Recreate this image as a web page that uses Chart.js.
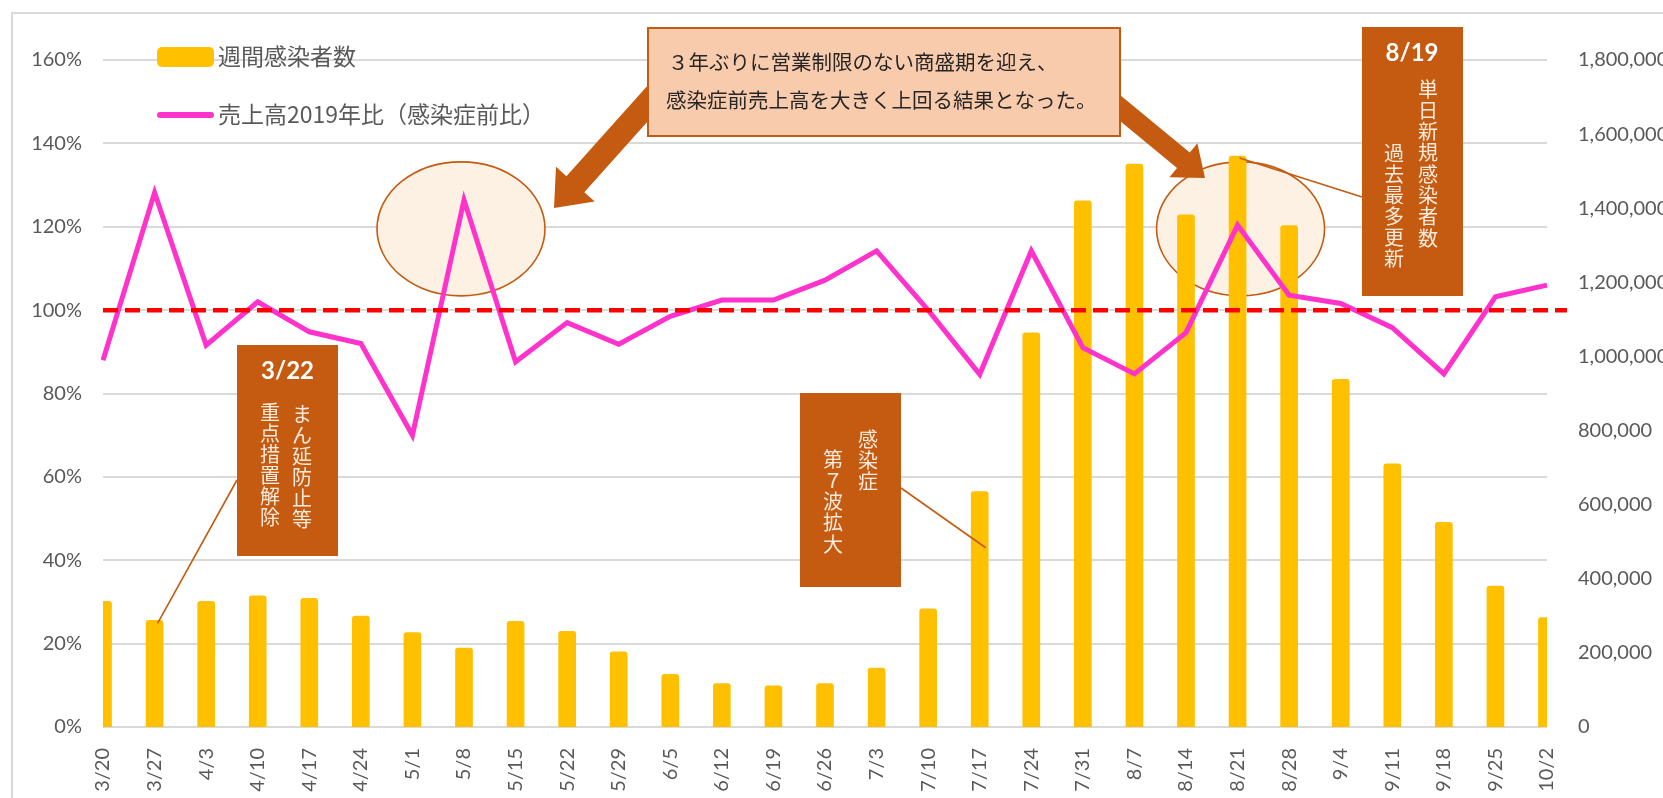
<!DOCTYPE html>
<html><head><meta charset="utf-8">
<script src="https://cdn.jsdelivr.net/npm/chart.js@4/dist/chart.umd.min.js"></script>
<style>
html,body{margin:0;padding:0;background:#fff;}
#wrap{position:relative;width:1663px;height:798px;}
canvas{display:block;}
</style>
</head><body>
<div id="wrap"><canvas id="c" width="1663" height="798"></canvas></div>
<script>
// ---- data ----
const categories = ['3/20','3/27','4/3','4/10','4/17','4/24','5/1','5/8','5/15','5/22','5/29','6/5','6/12','6/19','6/26','7/3','7/10','7/17','7/24','7/31','8/7','8/14','8/21','8/28','9/4','9/11','9/18','9/25','10/2'];
const weeklyInfections = [339000,288000,339000,354000,347000,299000,255000,213000,285000,258000,203000,142000,117000,111000,117000,159000,319000,635000,1064000,1420000,1519000,1382000,1541000,1353000,938000,710000,552000,380000,295000];
const salesVs2019 = [88,128.2,91.6,102,94.8,92,70,126.4,87.6,97,91.8,98.5,102.4,102.4,107.2,114.2,100,84.6,114.2,91,84.7,94.6,120.4,103.6,101.6,95.8,84.7,103.2,106];
const percentTicks = [0,20,40,60,80,100,120,140,160];
const countTicks = [0,200000,400000,600000,800000,1000000,1200000,1400000,1600000,1800000];
const barLabel = '週間感染者数';
const lineLabel = '売上高2019年比（感染症前比）';
const baseline = 100;

const GRAY = '#595959';
const BROWN = '#C55A11';
const BOXTEXT = '#FDEBDD';
const CJK = '"Noto Sans CJK JP", "Noto Sans", sans-serif';
Chart.defaults.font.family = 'Lato, "Noto Sans CJK JP", sans-serif';

function arrow(g, x0, y0, x1, y1, sw, hw, hl){
  const dx=x1-x0, dy=y1-y0, L=Math.hypot(dx,dy), ux=dx/L, uy=dy/L, px=-uy, py=ux;
  const bx=x1-ux*hl, by=y1-uy*hl;
  g.beginPath();
  g.moveTo(x0+px*sw/2, y0+py*sw/2);
  g.lineTo(bx+px*sw/2, by+py*sw/2);
  g.lineTo(bx+px*hw/2, by+py*hw/2);
  g.lineTo(x1, y1);
  g.lineTo(bx-px*hw/2, by-py*hw/2);
  g.lineTo(bx-px*sw/2, by-py*sw/2);
  g.lineTo(x0-px*sw/2, y0-py*sw/2);
  g.closePath();
  g.fill();
}
function vtext(g, str, x, y0, step){
  [...str].forEach((ch,i)=>g.fillText(ch, x, y0+i*step));
}
function brownBox(g, x, y, w, h){
  g.fillStyle=BROWN; g.fillRect(x,y,w,h);
}

const annot = {
  id:'annot',
  beforeDraw(c){
    const g=c.ctx; g.save();
    g.fillStyle='#fff'; g.fillRect(0,0,c.width,c.height);
    g.strokeStyle='#D9D9D9'; g.lineWidth=2; g.strokeRect(12,13,1720,900);
    g.restore();
  },
  beforeDatasetsDraw(c){
    const g=c.ctx, xs=c.scales.x, ys=c.scales.y;
    g.save();
    g.fillStyle='#FCF1E3'; g.strokeStyle=BROWN; g.lineWidth=1.6;
    [[7,-3],[22,3]].forEach(([i,dx])=>{
      g.beginPath();
      g.ellipse(xs.getPixelForValue(i)+dx, ys.getPixelForValue(119.5), 84, 67, 0, 0, Math.PI*2);
      g.fill(); g.stroke();
    });
    g.restore();
  },
  afterDatasetsDraw(c){
    const g=c.ctx, xs=c.scales.x, ys=c.scales.y, y1=c.scales.y1, ca=c.chartArea;
    g.save();
    // baseline 100%
    g.strokeStyle='#FF0000'; g.lineWidth=4.5; g.setLineDash([15,7]);
    const yb=ys.getPixelForValue(baseline);
    g.beginPath(); g.moveTo(ca.left, yb); g.lineTo(ca.right+20, yb); g.stroke();
    g.setLineDash([]);
    // connectors
    g.strokeStyle=BROWN; g.lineWidth=1.6;
    g.beginPath(); g.moveTo(237,480); g.lineTo(xs.getPixelForValue(1)+3, y1.getPixelForValue(weeklyInfections[1])+3); g.stroke();
    g.beginPath(); g.moveTo(901,488); g.lineTo(xs.getPixelForValue(17)+6, ys.getPixelForValue(43)); g.stroke();
    g.beginPath(); g.moveTo(1362,197); g.lineTo(xs.getPixelForValue(22)+2, y1.getPixelForValue(weeklyInfections[22])+2); g.stroke();
    // big arrows
    g.fillStyle=BROWN;
    arrow(g, 700, 45, 554, 208, 24, 52, 32);
    arrow(g, 1080, 75, 1205, 178, 20, 44, 28);
    // callout
    g.fillStyle='#F8CBAD'; g.fillRect(648,28,472,108);
    g.strokeStyle=BROWN; g.lineWidth=2; g.strokeRect(648,28,472,108);
    g.fillStyle='#262626'; g.font='20.5px '+CJK; g.textAlign='left'; g.textBaseline='middle';
    g.fillText('３年ぶりに営業制限のない商盛期を迎え、', 668, 62);
    g.fillText('感染症前売上高を大きく上回る結果となった。', 666, 100);
    g.textAlign='center';
    // 3/22 box
    brownBox(g, 237, 345, 101, 211);
    g.fillStyle='#FFFFFF'; g.font='bold 24px Lato, sans-serif';
    g.fillText('3/22', 287.5, 371);
    g.fillStyle=BOXTEXT; g.font='20px '+CJK;
    vtext(g, 'まん延防止等', 302, 414, 21);
    vtext(g, '重点措置解除', 270, 412, 21);
    // 7/17 box
    brownBox(g, 800, 393, 101, 194);
    g.fillStyle=BOXTEXT; g.font='20px '+CJK;
    vtext(g, '感染症', 868, 439, 21);
    vtext(g, '第７波拡大', 833, 459, 21.3);
    // 8/19 box
    brownBox(g, 1362, 27, 101, 269);
    g.fillStyle='#FFFFFF'; g.font='bold 24px Lato, sans-serif';
    g.fillText('8/19', 1412, 53);
    g.fillStyle=BOXTEXT; g.font='20px '+CJK;
    vtext(g, '単日新規感染者数', 1428, 89, 21.3);
    vtext(g, '過去最多更新', 1394, 153, 21);
    g.restore();
  },
  afterDraw(c){
    const g=c.ctx; g.save();
    g.fillStyle='#FFC000';
    g.beginPath(); g.roundRect(157,47,57,20,5); g.fill();
    g.strokeStyle='#FF33CC'; g.lineWidth=6; g.lineCap='round';
    g.beginPath(); g.moveTo(160,115); g.lineTo(211,115); g.stroke();
    g.fillStyle=GRAY; g.font='23px '+CJK; g.textAlign='left'; g.textBaseline='middle';
    g.fillText(barLabel, 218, 56);
    g.fillText(lineLabel, 218, 114);
    g.restore();
  }
};

new Chart(document.getElementById('c'), {
  type:'bar',
  data:{
    labels:categories,
    datasets:[
      {type:'line', label:lineLabel, data:salesVs2019, yAxisID:'y', borderColor:'#FF33CC', backgroundColor:'#FF33CC',
       borderWidth:5, pointRadius:0, tension:0, order:0, clip:false},
      {type:'bar', label:barLabel, data:weeklyInfections, yAxisID:'y1', backgroundColor:'#FFC000',
       barThickness:17, borderRadius:{topLeft:3,topRight:3,bottomLeft:0,bottomRight:0}, borderSkipped:false, order:1, clip:0}
    ]
  },
  options:{
    responsive:false, animation:false, devicePixelRatio:1,
    layout:{padding:{top:60,left:0,right:0,bottom:0}},
    plugins:{legend:{display:false}, tooltip:{enabled:false}},
    scales:{
      x:{offset:false, grid:{display:false,offset:false}, border:{display:false},
         ticks:{autoSkip:false, maxRotation:90, minRotation:90, padding:13, color:GRAY, font:{size:20}},
         afterFit(s){s.height=71;}},
      y:{position:'left', min:0, max:160,
         afterBuildTicks(s){s.ticks=percentTicks.map(v=>({value:v}));},
         ticks:{callback:v=>v+'%', padding:21, color:GRAY, font:{size:20}},
         grid:{color:'#D9D9D9', lineWidth:2, drawTicks:false}, border:{display:false},
         afterFit(s){s.width=103;}},
      y1:{position:'right', min:0, max:1800000,
         afterBuildTicks(s){s.ticks=countTicks.map(v=>({value:v}));},
         ticks:{callback:v=>v.toLocaleString('en-US'), padding:23, color:GRAY, font:{size:20}},
         grid:{display:false}, border:{display:false},
         afterFit(s){s.width=116;}}
    }
  },
  plugins:[annot]
});
</script>
</body></html>
